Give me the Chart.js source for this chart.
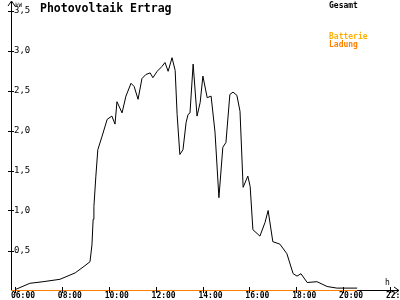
<!DOCTYPE html>
<html>
<head>
<meta charset="utf-8">
<script src="https://cdn.jsdelivr.net/npm/chart.js@4"></script>
<style>
  body { margin: 0; background: #fff; }
</style>
</head>
<body>
<canvas id="pvChart" width="400" height="300"></canvas>
<script>
// Gesamt (kW) over the day
const times = ['06:00', '06:38', '07:12', '07:55', '08:34', '08:59', '09:12', '09:17', '09:20', '09:22',
  '09:27', '09:32', '09:43', '09:56', '10:08', '10:16', '10:21', '10:34', '10:44', '10:57',
  '11:05', '11:15', '11:25', '11:35', '11:46', '11:53', '12:04', '12:16', '12:24', '12:32',
  '12:42', '12:50', '12:55', '13:02', '13:10', '13:18', '13:23', '13:28', '13:36', '13:46',
  '13:54', '14:01', '14:12', '14:22', '14:32', '14:42', '14:52', '15:00', '15:10', '15:18',
  '15:28', '15:36', '15:44', '15:56', '16:02', '16:09', '16:27', '16:40', '16:48', '17:00',
  '17:18', '17:36', '17:52', '18:02', '18:12', '18:28', '18:53', '19:19', '19:44', '20:36'];
const gesamt = [0.01, 0.09, 0.11, 0.14, 0.22, 0.31, 0.36, 0.57, 0.89, 1.05,
  1.43, 1.76, 1.93, 2.14, 2.18, 2.08, 2.36, 2.22, 2.43, 2.59,
  2.55, 2.39, 2.65, 2.70, 2.72, 2.66, 2.74, 2.80, 2.85, 2.74,
  2.91, 2.75, 2.20, 1.70, 1.76, 2.10, 2.20, 2.22, 2.83, 2.18,
  2.35, 2.68, 2.41, 2.43, 1.98, 1.16, 1.79, 1.85, 2.45, 2.48,
  2.44, 2.24, 1.29, 1.43, 1.30, 0.76, 0.68, 0.85, 1.00, 0.61,
  0.58, 0.46, 0.21, 0.18, 0.21, 0.10, 0.11, 0.05, 0.03, 0.03];

// Batterie Ladung (kW)
const ladungTimes = ['05:50', '20:36'];
const ladung = [0, 0];

const xTicks = [6, 8, 10, 12, 14, 16, 18, 20, 22];
const yTicks = [0.5, 1.0, 1.5, 2.0, 2.5, 3.0, 3.5];

function toHours(t) {
    const [h, m] = t.split(':').map(Number);
    return h + m / 60;
}
function pad2(n) { return (n < 10 ? '0' : '') + n; }

const mono = '"DejaVu Sans Mono", "Liberation Mono", monospace';

// title, legend texts, axis units, cross ticks and arrows
const decor = {
    id: 'decor',
    afterDraw(chart) {
        const c = chart.ctx;
        const a = chart.chartArea;
        const sx = chart.scales.x, sy = chart.scales.y;
        c.save();
        c.textBaseline = 'alphabetic';
        c.textAlign = 'left';
        c.fillStyle = '#000';
        c.font = 'bold 11.5px ' + mono;
        c.fillText('Photovoltaik Ertrag', 40, 12);

        c.font = 'bold 8px ' + mono;
        c.fillStyle = '#000';
        c.fillText('Gesamt', 329, 8);
        c.fillStyle = '#ffb000';
        c.fillText('Batterie', 329, 39);
        c.fillStyle = '#ff8000';
        c.fillText('Ladung', 329, 47);

        c.fillStyle = '#000';
        c.font = '6px ' + mono;
        c.fillText('kW', a.left + 4, 7);
        c.font = '8px ' + mono;
        c.fillText('h', a.right - 13, a.bottom - 5);

        c.strokeStyle = '#000';
        c.lineWidth = 1;
        c.beginPath();
        // tick marks crossing the axes
        yTicks.forEach(v => {
            const py = Math.round(sy.getPixelForValue(v)) + 0.5;
            c.moveTo(a.left - 3, py);
            c.lineTo(a.left + 3, py);
        });
        xTicks.forEach(v => {
            const px = Math.round(sx.getPixelForValue(v)) + 0.5;
            c.moveTo(px, a.bottom - 3);
            c.lineTo(px, a.bottom + 3);
        });
        // axis arrows
        c.moveTo(a.left - 3, a.top + 4);
        c.lineTo(a.left + 0.5, a.top - 1);
        c.lineTo(a.left + 4, a.top + 4);
        c.moveTo(a.right - 4, a.bottom - 3);
        c.lineTo(a.right + 1, a.bottom + 0.5);
        c.lineTo(a.right - 4, a.bottom + 4);
        c.stroke();
        c.restore();
    }
};

const ctx = document.getElementById('pvChart').getContext('2d');
new Chart(ctx, {
    type: 'line',
    data: {
        datasets: [{
            label: 'Ladung',
            data: ladungTimes.map((t, i) => ({ x: toHours(t), y: ladung[i] })),
            borderColor: '#ff8000',
            borderWidth: 1,
            pointRadius: 0,
            clip: false
        }, {
            label: 'Gesamt',
            data: times.map((t, i) => ({ x: toHours(t), y: gesamt[i] })),
            borderColor: '#000',
            borderWidth: 1,
            pointRadius: 0,
            tension: 0,
            clip: false
        }]
    },
    options: {
        responsive: false,
        animation: false,
        layout: { padding: { top: 2, right: 2, left: 0, bottom: 0 } },
        plugins: {
            legend: { display: false },
            tooltip: { enabled: false }
        },
        scales: {
            x: {
                type: 'linear',
                min: 5.8293,
                max: 22.3413,
                afterBuildTicks: s => { s.ticks = xTicks.map(v => ({ value: v })); },
                afterFit: s => { s.height = 10; s.paddingLeft = 0; s.paddingRight = 0; },
                grid: { drawOnChartArea: false, drawTicks: false, tickLength: 3 },
                border: { color: '#000' },
                ticks: {
                    autoSkip: false,
                    maxRotation: 0,
                    padding: 1,
                    labelOffset: 8,
                    color: '#000',
                    font: { family: mono, size: 8, weight: 'bold' },
                    callback: v => pad2(v) + ':00'
                }
            },
            y: {
                min: 0.00625,
                max: 3.60625,
                afterBuildTicks: s => { s.ticks = yTicks.map(v => ({ value: v })); },
                afterFit: s => { s.width = 11; s.paddingTop = 0; s.paddingBottom = 0; },
                grid: { drawOnChartArea: false, drawTicks: false, tickLength: 3 },
                border: { color: '#000' },
                ticks: {
                    mirror: true,
                    padding: 3,
                    color: '#000',
                    font: { family: mono, size: 9 },
                    callback: v => v.toFixed(1).replace('.', ',')
                }
            }
        }
    },
    plugins: [decor]
});
</script>
</body>
</html>
